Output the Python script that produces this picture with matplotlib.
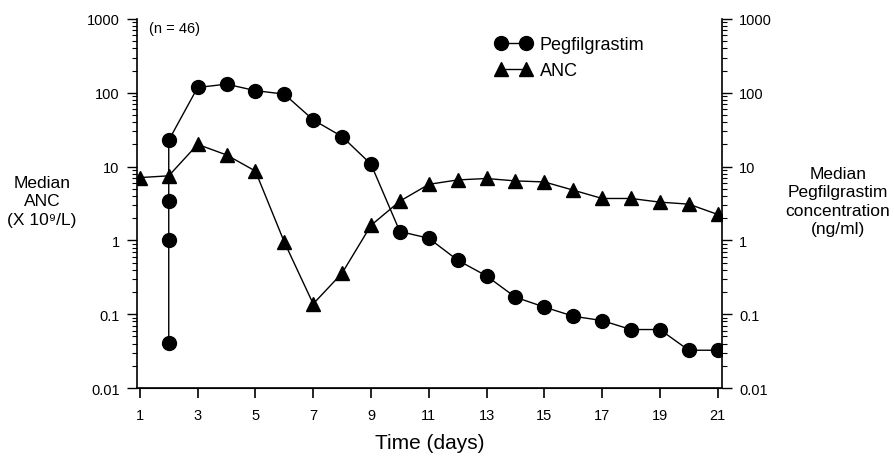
import matplotlib.pyplot as plt
import numpy as np
from matplotlib.ticker import FixedLocator, LogLocator, NullFormatter

plt.rcParams['font.family'] = ['Liberation Sans', 'DejaVu Sans']

# Data
peg_days = [2, 2, 2, 2, 3, 4, 5, 6, 7, 8, 9, 10, 11, 12, 13, 14, 15, 16, 17, 18, 19, 20, 21]
peg_conc = [0.041, 1.0, 3.4, 22.7, 118, 131, 107, 96, 43, 25.5, 10.8, 1.32, 1.07,
            0.54, 0.33, 0.17, 0.125, 0.094, 0.082, 0.062, 0.062, 0.0325, 0.0325]
anc_days = list(range(1, 22))
anc_vals = [7.1, 7.5, 20, 14.4, 8.7, 0.95, 0.138, 0.36, 1.6, 3.4, 5.75, 6.6, 6.9,
            6.4, 6.2, 4.8, 3.7, 3.7, 3.3, 3.1, 2.25]

x_ticks = list(range(1, 22, 2))
y_ticks = [0.01, 0.1, 1, 10, 100, 1000]
y_labels = ['0.01', '0.1', '1', '10', '100', '1000']

fig = plt.figure(figsize=(8.94, 4.64), dpi=100)
ax = fig.add_axes([0.1532, 0.1616, 0.6544, 0.7953])
ax2 = ax.twinx()

# ANC on left axis, pegfilgrastim on right axis
l_anc, = ax.plot(anc_days, anc_vals, color='black', lw=1, marker='^', ms=9.5,
                 label='ANC')
l_peg, = ax2.plot(peg_days, peg_conc, color='black', lw=1, marker='o', ms=10,
                  label='Pegfilgrastim')

for a in (ax, ax2):
    a.set_yscale('log')
    a.set_ylim(0.01, 1000)
    a.set_xlim(0.9, 21.15)
    a.yaxis.set_major_locator(FixedLocator(y_ticks))
    a.yaxis.set_minor_locator(LogLocator(base=10, subs=np.arange(2, 10)))
    a.yaxis.set_minor_formatter(NullFormatter())
    a.set_yticklabels(y_labels)
    a.spines['top'].set_visible(False)
    a.tick_params(axis='y', which='major', length=7.5, width=1, labelsize=10.5,
                  pad=5)
    a.tick_params(axis='y', which='minor', length=3.5, width=0.8)

ax.spines['right'].set_visible(False)
ax2.spines['left'].set_visible(False)
ax2.spines['right'].set_linewidth(1.2)
ax.spines['left'].set_linewidth(1.2)
ax.spines['bottom'].set_linewidth(1.2)

ax.set_xticks(x_ticks)
ax.tick_params(axis='x', length=7.5, width=1.2, labelsize=10.5, pad=7)

ax.set_xlabel('Time (days)', fontsize=15, labelpad=8)

ax.text(0.02, 0.995, '(n = 46)', transform=ax.transAxes, fontsize=10.5,
        va='top', ha='left')

fig.text(42 / 894, 1 - 202 / 464, 'Median\nANC\n(X 10⁹/L)', ha='center',
         va='center', fontsize=12.5, linespacing=1.3)
fig.text(838 / 894, 1 - 202 / 464,
         'Median\nPegfilgrastim\nconcentration\n(ng/ml)', ha='center',
         va='center', fontsize=12.5, linespacing=1.3)

leg = ax2.legend(handles=[l_peg, l_anc], loc='upper left',
                 bbox_to_anchor=(0.585, 0.998), frameon=False, numpoints=2,
                 handlelength=2.0, fontsize=13, handletextpad=0.45,
                 labelspacing=0.5)

fig.savefig('out.png', dpi=100)
